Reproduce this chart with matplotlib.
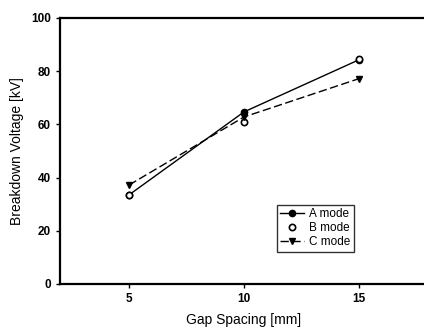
import matplotlib
matplotlib.use("Agg")
import matplotlib.pyplot as plt

# values
gap = [5, 10, 15]
a_mode = [33.5, 64.7, 84.3]
b_mode = [33.5, 61.0, 84.6]
c_mode = [37.2, 62.8, 77.2]

plt.rcParams['font.family'] = ['Liberation Sans', 'DejaVu Sans']

fig = plt.figure(figsize=(4.24, 3.31), dpi=100)
ax = fig.add_axes([60 / 424, 1 - 284 / 331, 368 / 424, 266 / 331])

ax.plot(gap, a_mode, color='black', lw=1.0, marker='o', ms=4.5, label='A mode')
ax.plot(gap, b_mode, color='black', lw=0, marker='o', ms=4.5,
        markerfacecolor='white', markeredgewidth=1.2, label='B mode')
ax.plot(gap, c_mode, color='black', lw=1.0, ls=(0, (6, 2.5)), marker='v', ms=4.5,
        label='C mode')

ax.set_xlim(2, 18)
ax.set_ylim(0, 100)
ax.set_xticks([5, 10, 15])
ax.set_yticks([0, 20, 40, 60, 80, 100])
ax.tick_params(labelsize=8.5, length=3, width=1, direction='out')
for lbl in ax.get_xticklabels() + ax.get_yticklabels():
    lbl.set_fontweight('bold')
ax.spines['right'].set_visible(False)
for s in ['left', 'bottom', 'top']:
    ax.spines[s].set_linewidth(1.6)

ax.set_xlabel('Gap Spacing [mm]', fontsize=10, labelpad=6)
ax.set_ylabel('Breakdown Voltage [kV]', fontsize=10, labelpad=5)

leg = ax.legend(loc='upper left', bbox_to_anchor=((271 - 60) / 368, (284 - 199) / 266),
                fontsize=8.5, frameon=True, fancybox=False, handlelength=2.0,
                borderpad=0.3, labelspacing=0.15, handletextpad=0.4)
leg.get_frame().set_edgecolor('black')
leg.get_frame().set_linewidth(1.0)

fig.savefig('out.png', dpi=100)
